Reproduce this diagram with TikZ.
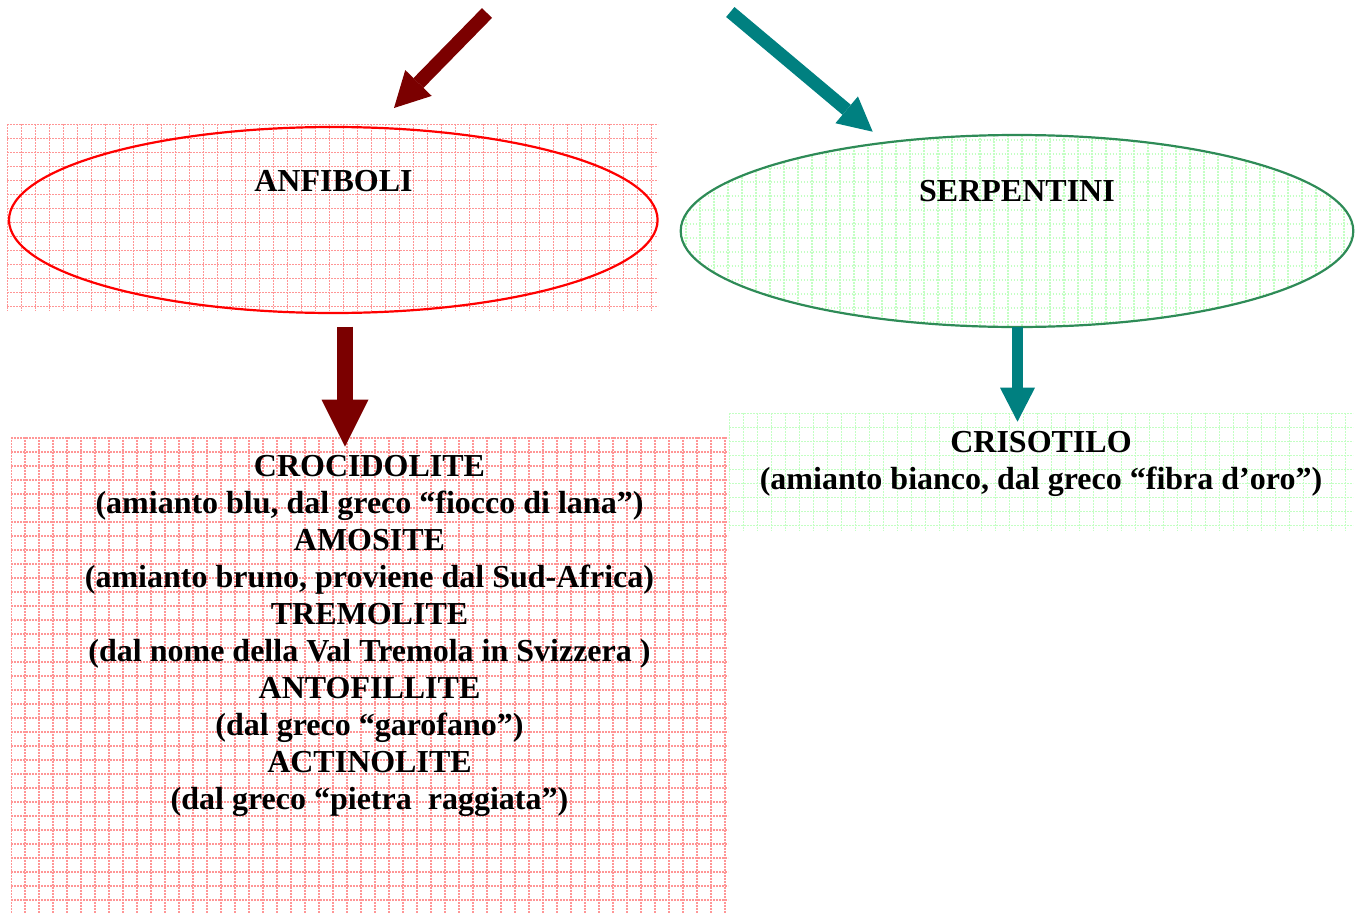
\documentclass[tikz,border=0pt]{standalone}
\usepackage{fontspec}
\setmainfont{Liberation Serif}
\usetikzlibrary{arrows.meta,shapes.geometric,calc}
\definecolor{darkred}{RGB}{123,0,0}
\definecolor{tealc}{RGB}{0,128,128}
\definecolor{ellred}{RGB}{255,0,0}
\definecolor{ellgreen}{RGB}{46,139,87}
\definecolor{gridred}{RGB}{255,150,150}
\definecolor{gridgreen}{RGB}{195,255,195}
\newcommand\gridfill[3]{%
  \foreach \k in {0,...,55}{%
    \draw[#1,gridline] ([xshift={#2pt+\k*14pt}]path picture bounding box.north west) -- ([xshift={#2pt+\k*14pt}]path picture bounding box.south west);
    \draw[#1,gridline] ([yshift={-#3pt-\k*14pt}]path picture bounding box.north west) -- ([yshift={-#3pt-\k*14pt}]path picture bounding box.north east);
  }}
\tikzset{
  gridline/.style={line width=1.6pt, dash pattern=on 1.6pt off 1.4pt},
  gridbox/.style={rectangle, draw=none, inner sep=0pt, outer sep=0pt},
  ell/.style={ellipse, inner sep=0pt, outer sep=0pt, line width=2.2pt},
  txt/.style={font=\bfseries\fontsize{32}{37}\selectfont, inner sep=0pt, text=black},
  redarr/.style={draw=darkred, -{Triangle[width=37pt,length=35pt,line width=0pt]}},
  tealarr/.style={draw=tealc, -{Triangle[width=35pt,length=34pt,line width=0pt]}},
}
\begin{document}
\begin{tikzpicture}[x=1pt,y=-1pt]
\useasboundingbox (0,0) rectangle (1361,913);
% grid backgrounds
\node[gridbox, minimum width=651pt, minimum height=187pt,
  path picture={\gridfill{gridred}{0.3}{0.5}}] (agrid) at (332.5,217.5) {};
\node[gridbox, minimum width=717pt, minimum height=476pt,
  path picture={\gridfill{gridred}{0}{0.7}}] (cbox) at (369.5,675) {};
\node[gridbox, minimum width=624pt, minimum height=118pt,
  path picture={\gridfill{gridgreen}{0.3}{0.3}}] (sbox) at (1041,472) {};
% ellipses
\node[ell, draw=ellred, minimum width=648.6pt, minimum height=186pt] (anf) at (333.3,220) {};
\node[ell, draw=ellgreen, minimum width=672.6pt, minimum height=192pt,
  path picture={\gridfill{gridgreen}{5.3}{4.7}}] (serp) at (1017,231) {};
% texts
\node[txt, anchor=base] (anfT) at (333.5,191) {ANFIBOLI};
\node[txt, anchor=base] (serpT) at (1017,201) {SERPENTINI};
\node[txt, align=center] (croc) at (369.5,635.5) {CROCIDOLITE\\(amianto blu, dal greco “fiocco di lana”)\\AMOSITE\\(amianto bruno, proviene dal Sud-Africa)\\TREMOLITE\\(dal nome della Val Tremola in Svizzera )\\ANTOFILLITE\\(dal greco “garofano”)\\ACTINOLITE\\(dal greco “pietra\ \ raggiata”)};
\node[txt, align=center] (cris) at (1041,464) {CRISOTILO\\(amianto bianco, dal greco “fibra d’oro”)};
% arrows
\coordinate (rtail) at (487,13);
\coordinate (rtip) at (394,108);
\coordinate (ttail) at (730.3,12);
\coordinate (ttip) at (872.7,131.7);
\draw[redarr, line width=14pt] (rtail) -- (rtip);
\draw[tealarr, line width=13pt] (ttail) -- (ttip);
\draw[redarr, line width=16.5pt, -{Triangle[width=47pt,length=47pt,line width=0pt]}] ($(anf.south)+(11.7,13.7)$) -- ($(cbox.north)+(-24.5,9.7)$);
\draw[tealarr, line width=11.7pt] ($(serp.south)+(0.5,0)$) -- ($(sbox.north)+(-23.5,8.7)$);
\end{tikzpicture}
\end{document}
